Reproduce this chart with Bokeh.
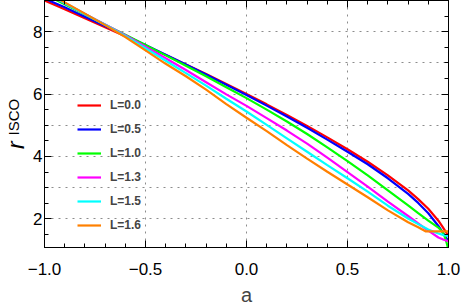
import math
from bokeh.plotting import figure
from bokeh.models import (Range1d, LinearAxis, SingleIntervalTicker, FixedTicker,
                          Legend, LegendItem, CustomJSTickFormatter)
from bokeh.embed import file_html
from bokeh.resources import INLINE

# spin parameter a (common part of the grid)
a_main = [-1.0, -0.9, -0.8, -0.7, -0.6, -0.5, -0.4, -0.3, -0.2, -0.1, 0.0,
          0.1, 0.2, 0.3, 0.4, 0.5, 0.6, 0.7, 0.8, 0.85, 0.9]

labels = ["L=0.0", "L=0.5", "L=1.0", "L=1.3", "L=1.5", "L=1.6"]
colors = ["#FF0000", "#0000FF", "#00FF00", "#FF00FF", "#00FFFF", "#FF8000"]

a_L00 = a_main + [0.95, 0.97, 0.99, 1.0]
r_L00 = [9.00, 8.72, 8.43, 8.14, 7.85, 7.55, 7.25, 6.95, 6.64, 6.32, 6.00,
         5.67, 5.33, 4.98, 4.61, 4.23, 3.83, 3.39, 2.91, 2.63, 2.32,
         1.94, 1.75, 1.55, 1.45]

a_L05 = a_main + [0.95, 0.97, 0.99, 1.0]
r_L05 = [9.06, 8.78, 8.48, 8.18, 7.88, 7.57, 7.26, 6.95, 6.63, 6.30, 5.97,
         5.63, 5.28, 4.92, 4.54, 4.15, 3.75, 3.30, 2.80, 2.51, 2.18,
         1.77, 1.58, 1.38, 1.30]

a_L10 = a_main + [0.95, 0.97, 0.98, 0.99, 1.0]
r_L10 = [9.20, 8.88, 8.55, 8.22, 7.90, 7.57, 7.24, 6.91, 6.57, 6.22, 5.87,
         5.50, 5.12, 4.72, 4.29, 3.85, 3.39, 2.91, 2.43, 2.18, 1.94,
         1.72, 1.58, 1.45, 1.25, 1.00]

a_L13 = a_main + [0.95, 0.98, 1.0]
r_L13 = [9.25, 8.92, 8.57, 8.23, 7.89, 7.52, 7.15, 6.77, 6.38, 5.99, 5.62,
         5.23, 4.83, 4.41, 3.96, 3.50, 3.03, 2.55, 2.09, 1.85, 1.62,
         1.40, 1.32, 1.28]

a_L15 = a_main + [0.93, 0.95, 0.98, 1.0]
r_L15 = [9.28, 8.92, 8.57, 8.22, 7.86, 7.47, 7.07, 6.67, 6.27, 5.85, 5.44,
         5.01, 4.58, 4.15, 3.72, 3.30, 2.87, 2.42, 2.01, 1.83, 1.66,
         1.58, 1.53, 1.47, 1.45]

a_L16 = a_main[:-1] + [0.886, 1.0]
r_L16 = [9.30, 8.94, 8.58, 8.21, 7.83, 7.40, 6.97, 6.57, 6.14, 5.68, 5.24,
         4.81, 4.36, 3.93, 3.51, 3.10, 2.69, 2.27, 1.89, 1.73,
         1.60, 1.60]

series_a = [a_L00, a_L05, a_L10, a_L13, a_L15, a_L16]
series_r = [r_L00, r_L05, r_L10, r_L13, r_L15, r_L16]

x_ticks_major = 0.5
y_ticks_major = 2
x_grid = [-1.0, -0.5, 0.0, 0.5, 1.0]
y_grid = [1, 2, 3, 4, 5, 6, 7, 8, 9]
X_MIN, X_MAX = -1.0, 1.0
Y_MIN, Y_MAX = 1.08, 9.0

FONT = "Liberation Sans"

p = figure(width=463, height=308, output_backend="svg", toolbar_location=None,
           x_range=Range1d(X_MIN, X_MAX), y_range=Range1d(Y_MIN, Y_MAX),
           x_axis_location=None, y_axis_location=None,
           min_border_left=44, min_border_right=15, min_border_top=0,
           min_border_bottom=59)
p.background_fill_color = "white"
p.border_fill_color = "white"
p.outline_line_color = "black"
p.outline_line_width = 1

xfmt = CustomJSTickFormatter(code="return tick.toFixed(1).replace('-', '\u2212');")
blank = CustomJSTickFormatter(code="return '';")


def style_axis(ax, show_labels):
    ax.axis_line_color = "black"
    ax.axis_line_width = 1
    ax.major_tick_line_color = "black"
    ax.minor_tick_line_color = "black"
    ax.major_tick_in = 7
    ax.major_tick_out = 0
    ax.minor_tick_in = 4
    ax.minor_tick_out = 0
    ax.major_label_text_font = FONT
    ax.major_label_text_color = "black"
    if show_labels:
        ax.major_label_text_font_size = "17px"
    else:
        ax.formatter = blank
        ax.major_label_text_font_size = "1px"
        ax.major_label_standoff = 0


xb = LinearAxis(ticker=SingleIntervalTicker(interval=x_ticks_major, num_minor_ticks=5),
                formatter=xfmt, axis_label="a")
style_axis(xb, True)
xb.major_label_standoff = 15
xb.axis_label_text_font = FONT
xb.axis_label_text_font_size = "20px"
xb.axis_label_text_font_style = "normal"
xb.axis_label_standoff = 6
p.add_layout(xb, "below")

xt = LinearAxis(ticker=SingleIntervalTicker(interval=x_ticks_major, num_minor_ticks=5))
style_axis(xt, False)
p.add_layout(xt, "above")

yl = LinearAxis(ticker=SingleIntervalTicker(interval=y_ticks_major, num_minor_ticks=4))
style_axis(yl, True)
yl.major_label_standoff = 2
p.add_layout(yl, "left")

yr = LinearAxis(ticker=SingleIntervalTicker(interval=y_ticks_major, num_minor_ticks=4))
style_axis(yr, False)
p.add_layout(yr, "right")

# y-axis title "r" + subscript "ISCO", drawn as labels of two bare left axes
Y_SUB = 5.26
Y_R = 4.36


def title_axis(text, y, size, style, standoff):
    ax = LinearAxis(ticker=FixedTicker(ticks=[y], minor_ticks=[]),
                    formatter=CustomJSTickFormatter(code="return '%s';" % text))
    ax.axis_line_color = None
    ax.major_tick_line_color = None
    ax.minor_tick_line_color = None
    ax.major_tick_in = 0
    ax.major_tick_out = 0
    ax.minor_tick_in = 0
    ax.minor_tick_out = 0
    ax.major_label_orientation = "parallel"
    ax.major_label_standoff = standoff
    ax.major_label_text_font = FONT
    ax.major_label_text_font_size = size
    ax.major_label_text_font_style = style
    ax.major_label_text_color = "black"
    return ax


p.add_layout(title_axis("ISCO", Y_SUB, "15px", "normal", 8), "left")
p.add_layout(title_axis("r", Y_R, "23px", "italic", -27), "left")

p.xgrid.ticker = FixedTicker(ticks=x_grid)
p.ygrid.ticker = FixedTicker(ticks=y_grid)
for g in (p.xgrid, p.ygrid):
    g.grid_line_color = "#8c8c8c"
    g.grid_line_dash = "2 5"
    g.grid_line_width = 1

renderers = []
for a_vals, r_vals, c in zip(series_a, series_r, colors):
    rr = p.line(a_vals, r_vals, line_color=c, line_width=2.2)
    renderers.append(rr)

legend = Legend(items=[LegendItem(label=l, renderers=[rr]) for l, rr in zip(labels, renderers)],
                location=(33, 10), padding=0, margin=0, spacing=0,
                glyph_width=24, glyph_height=24, label_height=24, label_standoff=9,
                label_text_font=FONT, label_text_font_size="12px",
                label_text_font_style="bold", background_fill_alpha=0,
                border_line_alpha=0)
p.add_layout(legend)

open("out.html", "w").write(file_html(p, INLINE))
